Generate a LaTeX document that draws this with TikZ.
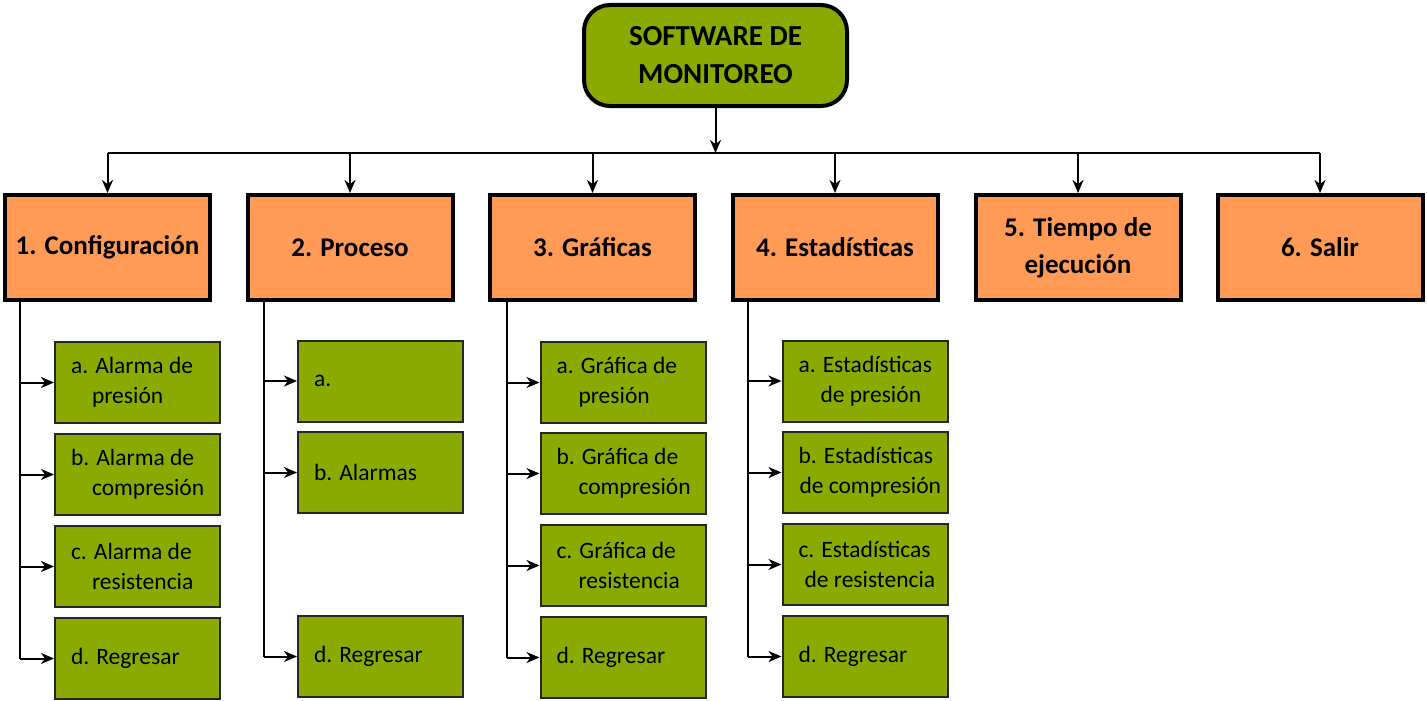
\documentclass[tikz,border=0pt]{standalone}
\usepackage{fontspec}
\setmainfont{Carlito}
\usetikzlibrary{arrows.meta}
\definecolor{gr}{HTML}{8AAA00}
\definecolor{orng}{HTML}{FF9A57}
\newcommand{\ind}[1]{\hspace*{#1pt}}
\begin{document}
\begin{tikzpicture}[x=1pt,y=-1pt,
 rootbox/.style={draw=black, line width=4pt, fill=gr, rounded corners=26pt, minimum width=263pt, minimum height=101pt, align=center, font=\fontsize{29}{38}\selectfont\bfseries, inner sep=0pt},
 mainbox/.style={draw=black, line width=4pt, fill=orng, minimum width=205pt, minimum height=105pt, align=center, font=\fontsize{27}{37}\selectfont\bfseries, inner sep=0pt},
 subbox/.style={draw=black!85, line width=2pt, fill=gr, minimum width=165pt, minimum height=81pt, inner sep=0pt, text width=133pt, align=flush left, font=\fontsize{23.5}{30}\selectfont},
 conn/.style={line width=2pt, -{Stealth[length=13pt,width=11pt,inset=4pt]}},
 wire/.style={line width=2pt}
]
\useasboundingbox (0,0) rectangle (1427,701);

% root
\node[rootbox] (root) at (715.5,55.5) {SOFTWARE DE\\MONITOREO};

% main boxes
\node[mainbox] (m1) at (107.5,247.5) {\raisebox{-2pt}{1. Configuración}};
\node[mainbox] (m2) at (350,247.5) {\raisebox{-2pt}{2. Proceso}};
\node[mainbox] (m3) at (592.5,247.5) {\raisebox{-2pt}{3. Gráficas}};
\node[mainbox] (m4) at (835,247.5) {\raisebox{-2pt}{4. Estadísticas}};
\node[mainbox] (m5) at (1078,247.5) {5. Tiempo de\\ejecución};
\node[mainbox] (m6) at (1320,247.5) {\raisebox{-2pt}{6. Salir}};

% bus
\coordinate (bus) at (715.5,153);
\coordinate (b1) at (107.5,153);
\coordinate (b6) at (1320,153);
\draw[conn] (root.south) -- (bus);
\draw[wire] (b1) -- (b6);
\foreach \m in {m1,m2,m3,m4,m5,m6}{
  \draw[conn] (\m.north |- bus) -- (\m.north);
}

% column 1
\node[subbox] (s1a) at (137.5,382.5) {\mbox{a. Alarma de}\\\ind{21}\mbox{presión}};
\node[subbox] (s1b) at (137.5,474.5) {\mbox{b. Alarma de}\\\ind{21}\mbox{compresión}};
\node[subbox] (s1c) at (137.5,566.5) {\mbox{c. Alarma de}\\\ind{21}\mbox{resistencia}};
\node[subbox] (s1d) at (137.5,658.5) {\mbox{d. Regresar}};

% column 2
\node[subbox] (s2a) at (380.5,381) {\mbox{a.}};
\node[subbox] (s2b) at (380.5,472.5) {\mbox{b. Alarmas}};
\node[subbox] (s2d) at (380.5,656.5) {\mbox{d. Regresar}};

% column 3
\node[subbox] (s3a) at (623,382.5) {\mbox{a. Gráfica de}\\\ind{22}\mbox{presión}};
\node[subbox] (s3b) at (623,473.5) {\mbox{b. Gráfica de}\\\ind{22}\mbox{compresión}};
\node[subbox] (s3c) at (623,565.5) {\mbox{c. Gráfica de}\\\ind{22}\mbox{resistencia}};
\node[subbox] (s3d) at (623,657.5) {\mbox{d. Regresar}};

% column 4
\node[subbox] (s4a) at (865,381) {\mbox{a. Estadísticas}\\\ind{22}\mbox{de presión}};
\node[subbox] (s4b) at (865,472.5) {\mbox{b. Estadísticas}\\\ind{1}\mbox{de compresión}};
\node[subbox] (s4c) at (865,564.5) {\mbox{c. Estadísticas}\\\ind{6}\mbox{de resistencia}};
\node[subbox] (s4d) at (865,656.5) {\mbox{d. Regresar}};

% trunks
\coordinate (t1) at (20,300);
\coordinate (t2) at (264,300);
\coordinate (t3) at (507,300);
\coordinate (t4) at (748,300);
\draw[wire] (t1) -- (t1 |- s1d.west);
\draw[wire] (t2) -- (t2 |- s2d.west);
\draw[wire] (t3) -- (t3 |- s3d.west);
\draw[wire] (t4) -- (t4 |- s4d.west);
\foreach \s in {s1a,s1b,s1c,s1d}{\draw[conn] (t1 |- \s.west) -- (\s.west);}
\foreach \s in {s2a,s2b,s2d}{\draw[conn] (t2 |- \s.west) -- (\s.west);}
\foreach \s in {s3a,s3b,s3c,s3d}{\draw[conn] (t3 |- \s.west) -- (\s.west);}
\foreach \s in {s4a,s4b,s4c,s4d}{\draw[conn] (t4 |- \s.west) -- (\s.west);}
\end{tikzpicture}
\end{document}
